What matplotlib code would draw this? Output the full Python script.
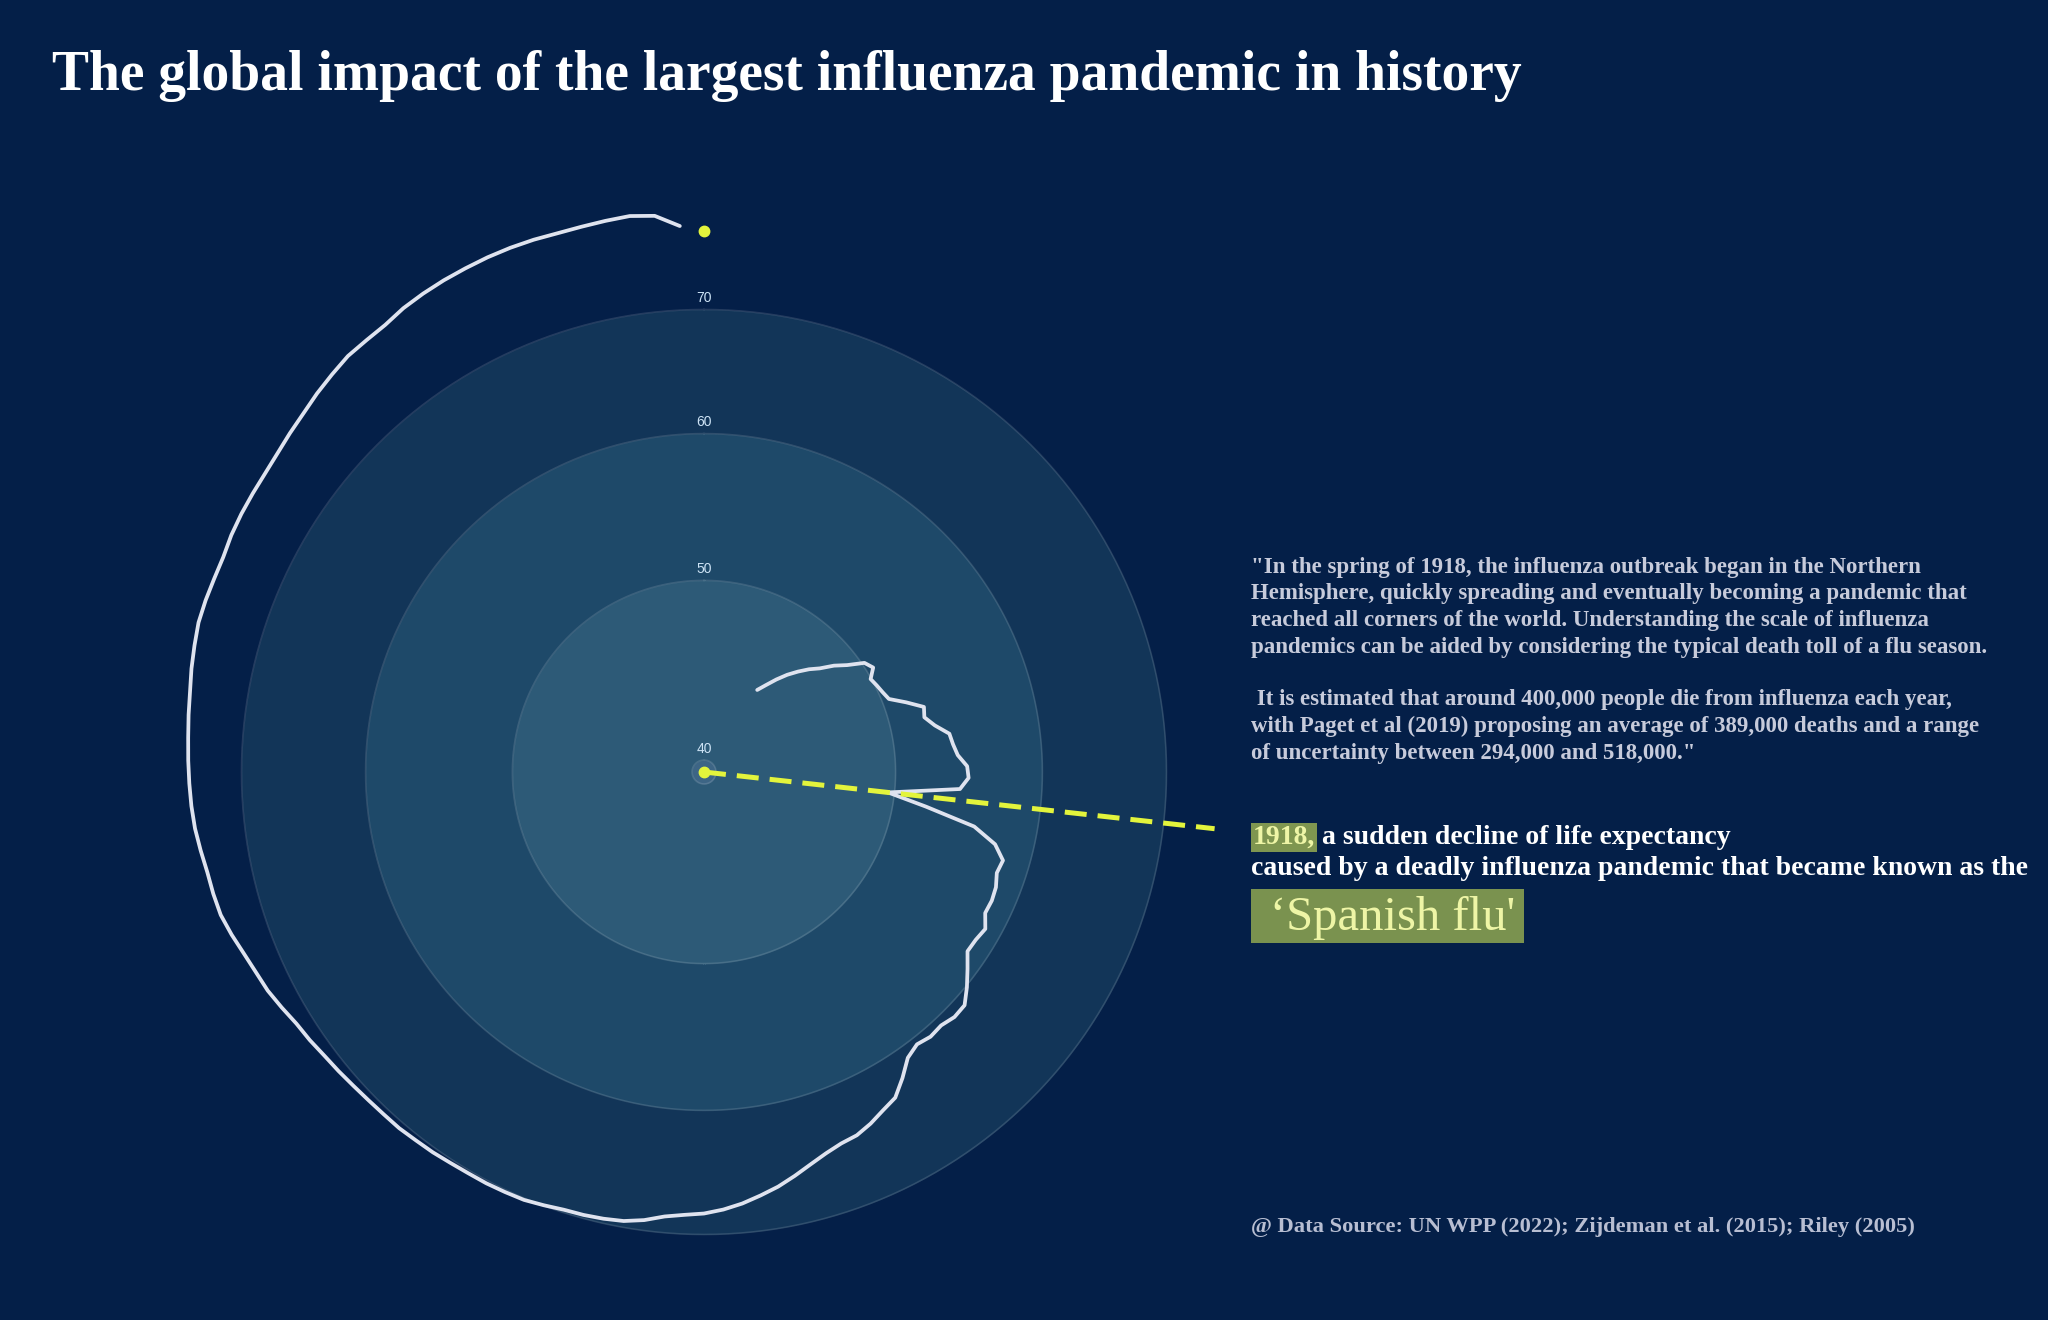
import numpy as np
import matplotlib
matplotlib.use("Agg")
import matplotlib.pyplot as plt
from matplotlib.patches import Rectangle
from matplotlib.ticker import NullLocator

years = list(range(1893, 2022))
life_exp = [
    44.5, 45.0, 45.6, 46.2, 46.75, 47.3, 47.8,                          # 1893-1899
    48.55, 49.2, 50.15, 50.45, 49.95, 50.1, 50.25, 50.45, 51.4, 52.4,    # 1900s
    52.25, 52.8, 53.65, 53.8, 54.05, 54.65, 54.75, 54.2, 49.6, 52.1,     # 1910s
    55.5, 57.2, 58.05, 57.9, 58.2, 58.3, 58.25, 58.8, 58.6, 58.55,       # 1920s
    59.3, 60.1, 60.85, 60.9, 60.65, 60.75, 60.55, 60.95, 62.0, 63.0,     # 1930s
    63.4, 63.9, 64.3, 64.45, 64.8, 65.3, 65.9, 66.5, 67.0, 67.5,         # 1940s
    67.9, 68.2, 68.35, 68.6, 69.1, 69.45, 69.6, 69.7, 69.75, 69.95,      # 1950s
    70.15, 70.2, 70.25, 70.25, 70.3, 70.4, 70.45, 70.55, 70.55, 70.6,    # 1960s
    70.7, 70.85, 71.0, 71.25, 71.45, 71.85, 72.25, 72.5, 72.85, 73.3,    # 1970s
    73.7, 73.85, 73.95, 74.2, 74.45, 74.6, 74.7, 74.8, 74.9, 75.05,      # 1980s
    75.2, 75.45, 75.65, 75.85, 75.85, 75.8, 75.8, 76.0, 76.1, 76.15,     # 1990s
    76.2, 76.35, 76.6, 76.85, 77.2, 77.5, 77.8, 77.85, 77.95, 78.3,      # 2000s
    78.5, 78.65, 78.75, 78.85, 78.9, 78.9, 78.85, 78.9, 79.0, 79.1,      # 2010s
    78.85, 77.7,                                                         # 2020-2021
]
year_domain = (1880, 2022)      # maps onto one full turn
flu_year = 1918
pointer_value = 74.6            # where the dashed pointer ends
latest_year = 2022
latest_value = 77.2
rings = [70, 60, 50, 40]
ring_colors = ["#123558", "#1e4969", "#2d5a77", "#3d6585"]
r_min, r_max = 39.41, 80

title = "The global impact of the largest influenza pandemic in history"
quote_lines = [
    '"In the spring of 1918, the influenza outbreak began in the Northern',
    "Hemisphere, quickly spreading and eventually becoming a pandemic that",
    "reached all corners of the world. Understanding the scale of influenza",
    "pandemics can be aided by considering the typical death toll of a flu season.",
    "",
    " It is estimated that around 400,000 people die from influenza each year,",
    "with Paget et al (2019) proposing an average of 389,000 deaths and a range",
    'of uncertainty between 294,000 and 518,000."',
]
source = "@ Data Source: UN WPP (2022); Zijdeman et al. (2015); Riley (2005)"

BG = "#041f48"
LINE = "#dfe3ef"
YELLOW = "#e3f43c"
OLIVE = "#7f9650"
PALE = "#eef5a6"
SERIF = ["Liberation Serif", "DejaVu Serif"]


def to_theta(y):
    y = np.asarray(y, dtype=float)
    return 2 * np.pi * (y - year_domain[0]) / (year_domain[1] - year_domain[0])


W, H = 2048, 1320
fig = plt.figure(figsize=(W / 100, H / 100), dpi=100, facecolor=BG)

cx, cy, R = 704, 772, 570
ax = fig.add_axes([(cx - R) / W, (H - cy - R) / H, 2 * R / W, 2 * R / H],
                  projection="polar")
ax.set_facecolor("none")
ax.set_theta_zero_location("N")
ax.set_theta_direction(-1)
ax.set_rscale("log")
ax.set_rlim(r_min, r_max)
ax.set_xticks([])
ax.set_yticks([])
ax.yaxis.set_minor_locator(NullLocator())
ax.grid(False)
ax.spines["polar"].set_visible(False)

full = np.linspace(0, 2 * np.pi, 721)
for ring, col in zip(rings, ring_colors):
    ax.fill_between(full, r_min, ring, color=col, lw=0, zorder=1)
    ax.plot(full, np.full_like(full, ring), color="#ffffff", alpha=0.13, lw=1.2, zorder=2)
    ax.annotate(str(ring), xy=(0, ring), xytext=(0, 3), textcoords="offset points",
                ha="center", va="bottom", fontsize=10, color="#cde3f5",
                family="Liberation Sans", zorder=6)

ax.plot(to_theta(years), life_exp, color=LINE, lw=2.7, solid_capstyle="round",
        solid_joinstyle="round", zorder=5)

th = float(to_theta(flu_year))
ax.plot([th, th], [r_min, pointer_value], color=YELLOW, lw=3.6, dashes=(4.4, 2.2),
        zorder=7, clip_on=False)
ax.plot([0], [r_min], "o", color=YELLOW, ms=7.5, zorder=8, clip_on=False)
ax.plot(to_theta([latest_year]), [latest_value], "o", color=YELLOW, ms=7.5, zorder=8)

# titles and text block on the right
fig.text(52 / W, 1 - 90 / H, title, fontsize=40, fontweight="bold", family=SERIF,
         color="white", va="baseline")

x0 = 1251 / W
base, step = 573, 26.5
for i, line in enumerate(quote_lines):
    if line:
        fig.text(x0, 1 - (base + i * step) / H, line, fontsize=16.5, fontweight="bold",
                 family=SERIF, color="#c7cbdb", va="baseline")

t1918 = fig.text(x0 + 2 / W, 1 - 844 / H, "1918,", fontsize=20, fontweight="bold",
                 family=SERIF, color=PALE, va="baseline",
                 bbox=dict(boxstyle="square,pad=0.08", fc=OLIVE, ec="none"))
ax.annotate(" a sudden decline of life expectancy", xy=(1, 0), xycoords=t1918,
            va="bottom", ha="left", fontsize=20, fontweight="bold", family=SERIF,
            color="white", annotation_clip=False)
fig.text(x0, 1 - 875 / H, "caused by a deadly influenza pandemic that became known as the",
         fontsize=20, fontweight="bold", family=SERIF, color="white", va="baseline")

fig.add_artist(Rectangle((x0, 1 - 943 / H), 273 / W, 54 / H, transform=fig.transFigure,
                         fc="#7a924f", ec="none", zorder=1))
fig.text(1270 / W, 1 - 930 / H, "\u2018Spanish flu'", fontsize=35, family=SERIF,
         color=PALE, va="baseline", zorder=2)

fig.text(x0, 1 - 1232 / H, source, fontsize=16.2, fontweight="bold", family=SERIF,
         color="#b8bed2", va="baseline")

fig.savefig("out.png", dpi=100, facecolor=BG)
